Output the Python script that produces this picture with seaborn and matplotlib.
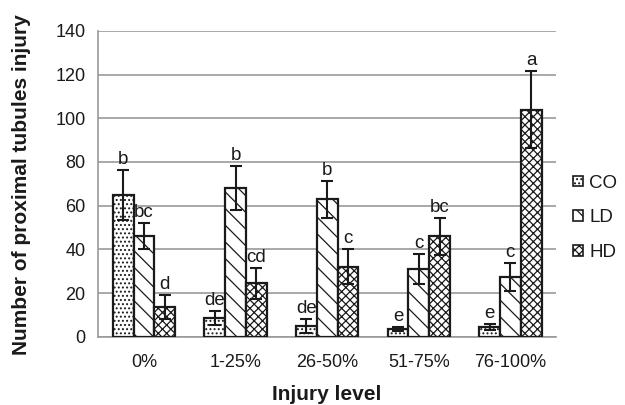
import matplotlib
matplotlib.use("Agg")
import matplotlib.pyplot as plt
import seaborn as sns
import pandas as pd

# Injury-level categories and treatment groups
levels = ["0%", "1-25%", "26-50%", "51-75%", "76-100%"]
groups = ["CO", "LD", "HD"]

# Mean counts per group across injury levels
co_mean = [65, 8.5, 5, 3.5, 4.5]
ld_mean = [46, 68, 63, 31, 27.5]
hd_mean = [13.5, 24.5, 32, 46, 104]

# Standard errors
co_err = [11.5, 3.2, 3, 1, 1.5]
ld_err = [6, 10, 8.5, 7, 6.5]
hd_err = [5.5, 7, 8, 8.5, 17.5]

# Significance letters
co_sig = ["b", "de", "de", "e", "e"]
ld_sig = ["bc", "b", "b", "c", "c"]
hd_sig = ["d", "cd", "c", "bc", "a"]

means = {"CO": co_mean, "LD": ld_mean, "HD": hd_mean}
errs = {"CO": co_err, "LD": ld_err, "HD": hd_err}
sigs = {"CO": co_sig, "LD": ld_sig, "HD": hd_sig}

df = pd.DataFrame(
    [(lvl, g, means[g][i]) for g in groups for i, lvl in enumerate(levels)],
    columns=["level", "group", "value"],
)

sns.set_style("white")
plt.rcParams["font.family"] = ["Liberation Sans", "DejaVu Sans"]
plt.rcParams["hatch.linewidth"] = 0.9
plt.rcParams["hatch.color"] = "black"

fig = plt.figure(figsize=(6.25, 4.05), dpi=100)
ax = fig.add_axes([0.157, 0.168, 0.733, 0.756])

hatches = {"CO": "....", "LD": "\\\\", "HD": "xxxx"}
grid_c = "#9a9a9a"
text_c = "#1a1a1a"

sns.barplot(
    data=df, x="level", y="value", hue="group", order=levels, hue_order=groups,
    palette=["white"] * 3, edgecolor="#1a1a1a", linewidth=1.6,
    width=0.68, gap=0, errorbar=None, ax=ax, legend=False, zorder=3,
)

for g, cont in zip(groups, ax.containers):
    for i, bar in enumerate(cont):
        bar.set_hatch(hatches[g])
        cx = bar.get_x() + bar.get_width() / 2
        v = means[g][i]
        e = errs[g][i]
        ax.errorbar(cx, v, yerr=e, fmt="none", ecolor="#1a1a1a",
                    elinewidth=1.5, capsize=4, capthick=1.5, zorder=4)
        ax.annotate(sigs[g][i], (cx, v + e), xytext=(0, 1.5),
                    textcoords="offset points", ha="center", va="bottom",
                    fontsize=13.5, color=text_c, zorder=5)

ax.set_ylim(0, 140)
ax.set_yticks(range(0, 141, 20))
ax.set_xlim(-0.5, len(levels) - 0.5)
ax.yaxis.grid(True, color=grid_c, linewidth=1.2, zorder=0)
ax.set_axisbelow(True)

for s in ["top", "right"]:
    ax.spines[s].set_visible(False)
for s in ["left", "bottom"]:
    ax.spines[s].set_color(grid_c)
    ax.spines[s].set_linewidth(1.2)

# category boundary ticks on the x axis
ax.set_xticks([i - 0.5 for i in range(len(levels) + 1)], minor=True)
ax.tick_params(axis="x", which="minor", length=6, color=grid_c, width=1.2)
ax.tick_params(axis="x", which="major", length=0, labelsize=13,
               labelcolor=text_c, pad=12)
ax.tick_params(axis="y", length=5, color=grid_c, width=1.2, labelsize=13,
               labelcolor=text_c, pad=4)

ax.set_xlabel("")
ax.set_ylabel("")
fig.text(327 / 625, 1 - 395 / 405, "Injury level", fontsize=15,
         fontweight="bold", color=text_c, ha="center", va="center")
fig.text(22 / 625, 1 - 185 / 405, "Number of proximal tubules injury",
         fontsize=15, fontweight="bold", color=text_c, ha="center",
         va="center", rotation=90)

handles = [plt.Rectangle((0, 0), 1, 1, facecolor="white", edgecolor="#1a1a1a",
                         hatch=hatches[g], linewidth=1.2) for g in groups]
fig.legend(handles, groups, loc="center left", bbox_to_anchor=(0.89, 0.462),
           frameon=False, fontsize=13.5, handlelength=0.5, handleheight=0.5,
           handletextpad=0.35, labelspacing=0.95, labelcolor=text_c)

fig.savefig("out.png", dpi=100, facecolor="white")
